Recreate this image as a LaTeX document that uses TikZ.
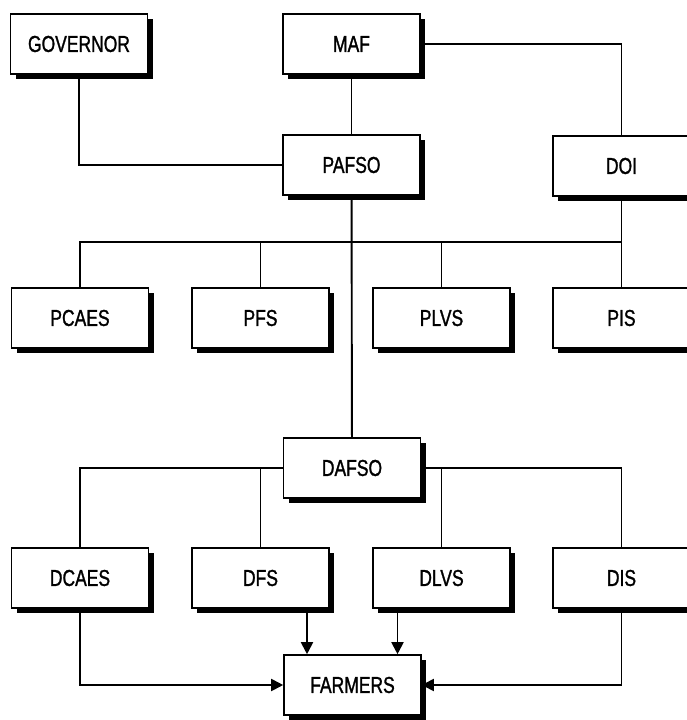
\documentclass[tikz,border=0pt]{standalone}
\usepackage{fontspec}
\setmainfont{Liberation Sans}[FakeStretch=0.76,FakeBold=1.2]
\usetikzlibrary{shadows,arrows.meta}
\begin{document}
\begin{tikzpicture}[x=1pt,y=-1pt,
  orgbox/.style={draw=black, fill=white, line width=1.6pt, minimum width=137pt, minimum height=60pt, inner sep=0pt,
    font=\fontsize{23}{27}\selectfont,
    drop shadow={shadow xshift=5pt, shadow yshift=-5pt, fill=black, opacity=1}},
  link/.style={line width=1.9pt, black},
  arr/.style={link, -{Triangle[length=12pt,width=12pt]}}]
\useasboundingbox (0,0) rectangle (687,720);
\fill[white] (0,0) rectangle (687,720);
\node[orgbox] (GOV) at (79,44) {GOVERNOR};
\node[orgbox] (MAF) at (351.5,44) {MAF};
\node[orgbox] (PAFSO) at (351.5,165) {PAFSO};
\node[orgbox] (DOI) at (621.5,166) {DOI};
\node[orgbox] (PCAES) at (80,318) {PCAES};
\node[orgbox] (PFS) at (260.5,318) {PFS};
\node[orgbox] (PLVS) at (441.5,318) {PLVS};
\node[orgbox] (PIS) at (621.5,318) {PIS};
\node[orgbox] (DAFSO) at (352,468) {DAFSO};
\node[orgbox] (DCAES) at (80,578) {DCAES};
\node[orgbox] (DFS) at (260.5,578) {DFS};
\node[orgbox] (DLVS) at (441.5,578) {DLVS};
\node[orgbox] (DIS) at (621.5,578) {DIS};
\node[orgbox] (FARM) at (352.5,685) {FARMERS};
\coordinate (busR) at (621.5,242);
\coordinate (fa) at ([xshift=-45.5pt]FARM.north);
\coordinate (fb) at ([xshift=45pt]FARM.north);
\draw[link] (GOV.south) |- (PAFSO.west);
\draw[link] (MAF) -- (PAFSO);
\draw[link] (MAF.east) -| (DOI.north);
\draw[link] (DOI) -- (PIS);
\draw[link] (PCAES.north) |- (busR);
\draw[link] (PFS.north) -- (PFS.north |- busR);
\draw[link] (PLVS.north) -- (PLVS.north |- busR);
\draw[link] (PAFSO) -- (DAFSO);
\draw[link] (DAFSO.west) -| (DCAES.north);
\draw[link] (DFS.north) -- (DFS.north |- DAFSO.west);
\draw[link] (DAFSO.east) -| (DIS.north);
\draw[link] (DLVS.north) -- (DLVS.north |- DAFSO.east);
\draw[arr] (DCAES.south) |- (FARM.west);
\draw[arr] (DIS.south) |- (FARM.east);
\draw[arr] (DFS.south -| fa) -- (fa);
\draw[arr] (DLVS.south -| fb) -- (fb);
\end{tikzpicture}
\end{document}
